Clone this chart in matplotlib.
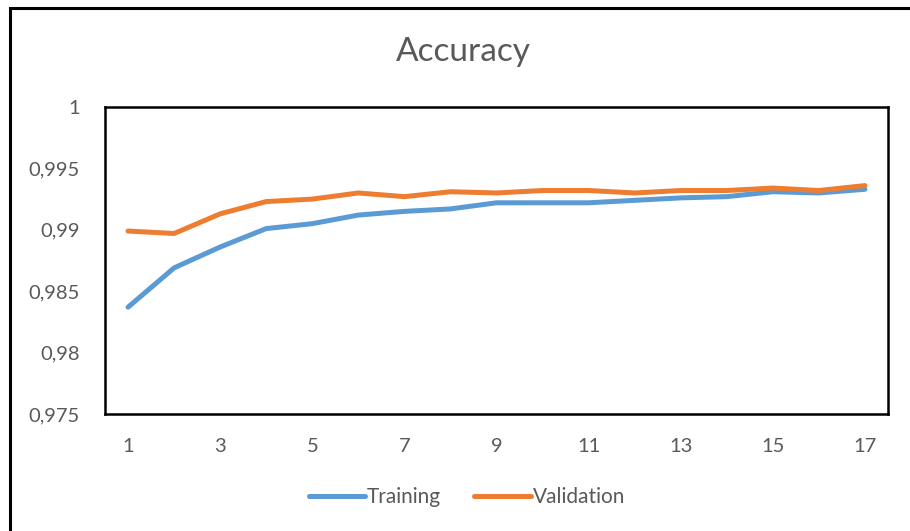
import matplotlib
matplotlib.use('Agg')
import matplotlib.pyplot as plt
from matplotlib.patches import Rectangle

plt.rcParams['font.family'] = ['Lato', 'DejaVu Sans']

epochs = list(range(1, 18))
training = [0.9837, 0.9869, 0.9886, 0.9901, 0.9905, 0.9912, 0.9915, 0.9917, 0.9922,
            0.9922, 0.9922, 0.9924, 0.9926, 0.9927, 0.9931, 0.9930, 0.9933]
validation = [0.9899, 0.9897, 0.9913, 0.9923, 0.9925, 0.9930, 0.9927, 0.9931, 0.9930,
              0.9932, 0.9932, 0.9930, 0.9932, 0.9932, 0.9934, 0.9932, 0.9936]
yticks = [0.975, 0.98, 0.985, 0.99, 0.995, 1.0]
ytick_labels = ['0,975', '0,98', '0,985', '0,99', '0,995', '1']
xticks = [1, 3, 5, 7, 9, 11, 13, 15, 17]

text_color = '#595959'

fig = plt.figure(figsize=(9.1, 5.31), dpi=100)
ax = fig.add_axes([0.1154, 0.2203, 0.8604, 0.5782])

ax.plot(epochs, training, color='#5B9BD5', lw=3.6, label='Training', solid_capstyle='round')
ax.plot(epochs, validation, color='#ED7D31', lw=3.6, label='Validation', solid_capstyle='round')

ax.set_xlim(0.5, 17.5)
ax.set_ylim(0.975, 1.0)
ax.set_xticks(xticks)
ax.set_yticks(yticks)
ax.set_yticklabels(ytick_labels)
ax.tick_params(length=0, labelsize=14.5, labelcolor=text_color)
ax.tick_params(axis='y', pad=18)
ax.tick_params(axis='x', pad=17)
for s in ax.spines.values():
    s.set_linewidth(1.8)
    s.set_color('black')

fig.text(0.509, 0.902, 'Accuracy', ha='center', va='center', fontsize=24, color=text_color)

leg = fig.legend(loc='center', bbox_to_anchor=(0.513, 0.064), ncol=2, frameon=False,
                 fontsize=15, handlelength=2.7, handletextpad=0.1, columnspacing=1.6)
for t in leg.get_texts():
    t.set_color(text_color)
for h in leg.get_lines():
    h.set_linewidth(3.6)

# outer chart border
fig.patches.append(Rectangle((10 / 910, -0.05), 1.1, 1 - 8 / 531 + 0.05,
                             transform=fig.transFigure, fill=False,
                             edgecolor='black', lw=2.2))

plt.savefig('out.png', dpi=100)
